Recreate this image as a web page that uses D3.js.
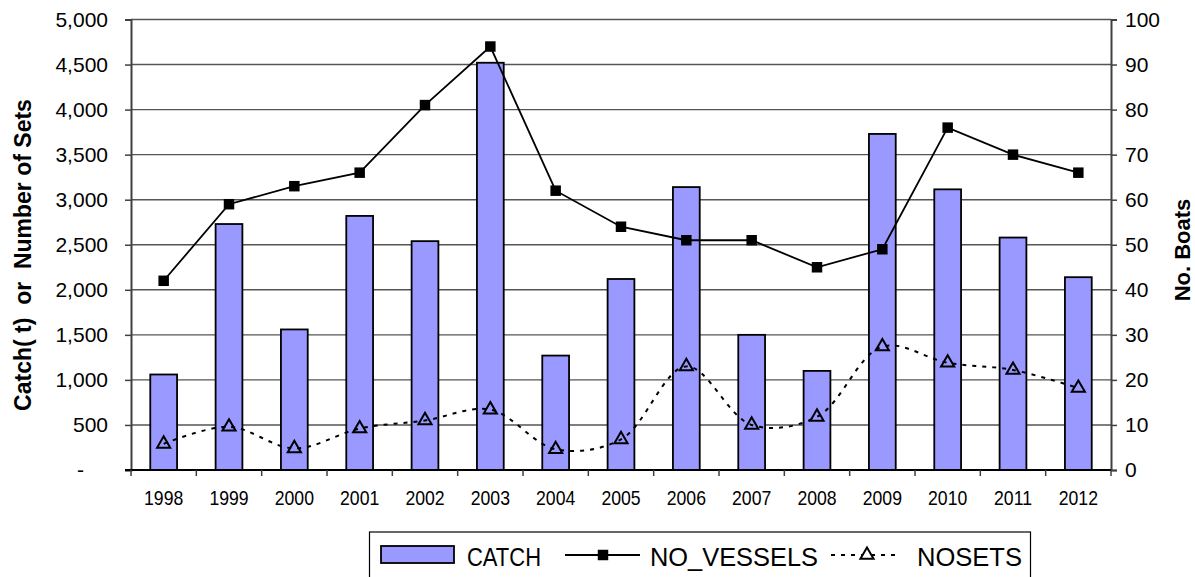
<!DOCTYPE html>
<html>
<head>
<meta charset="utf-8">
<script src="https://cdn.jsdelivr.net/npm/d3@7"></script>
<style>
  html, body { margin: 0; padding: 0; background: #fff; }
  svg { display: block; font-family: "Liberation Sans", Arial, sans-serif; }
</style>
</head>
<body>
<svg id="chart" width="1195" height="577"></svg>
<script>
// Yearly catch (t), number of sets and number of boats
const years = ["1998","1999","2000","2001","2002","2003","2004","2005","2006","2007","2008","2009","2010","2011","2012"];
const catchTonnes = [1060, 2730, 1560, 2820, 2540, 4520, 1270, 2120, 3140, 1500, 1100, 3730, 3115, 2580, 2140];
const noVessels = [42, 59, 63, 66, 81, 94, 62, 54, 51, 51, 45, 49, 76, 70, 66];
const noSets = [290, 480, 240, 460, 550, 670, 230, 340, 1150, 500, 590, 1370, 1190, 1110, 910];
const leftTicks = [0, 500, 1000, 1500, 2000, 2500, 3000, 3500, 4000, 4500, 5000];
const rightTicks = [0, 10, 20, 30, 40, 50, 60, 70, 80, 90, 100];
const legendLabels = ["CATCH", "NO_VESSELS", "NOSETS"];

const svg = d3.select("#chart");
const plot = { left: 131, right: 1111, top: 19.5, bottom: 470 };

const x = d3.scaleBand().domain(years).range([plot.left, plot.right]).paddingInner(0.59).paddingOuter(0.295);
const xBand = d3.scaleBand().domain(years).range([plot.left, plot.right]);
const yL = d3.scaleLinear().domain([0, 5000]).range([plot.bottom, plot.top]);
const yR = d3.scaleLinear().domain([0, 100]).range([plot.bottom, plot.top]);

// squeeze a text element horizontally to a narrow face
function narrow(sel, k) {
  sel.each(function () {
    const w = this.getComputedTextLength();
    d3.select(this).attr("textLength", w * k).attr("lengthAdjust", "spacingAndGlyphs");
  });
}

// horizontal gridlines
svg.append("g").selectAll("line").data(leftTicks.filter(d => d > 0)).join("line")
  .attr("x1", plot.left).attr("x2", plot.right)
  .attr("y1", d => yL(d)).attr("y2", d => yL(d))
  .attr("stroke", "#555").attr("stroke-width", 1.4);

// catch bars
svg.append("g").selectAll("rect").data(catchTonnes).join("rect")
  .attr("x", (d, i) => x(years[i]))
  .attr("y", d => yL(d))
  .attr("width", x.bandwidth())
  .attr("height", d => yL(0) - yL(d))
  .attr("fill", "#9999FF").attr("stroke", "#000").attr("stroke-width", 1.8);

// left axis
const leftAxis = d3.axisLeft(yL).tickValues(leftTicks).tickSize(6).tickPadding(17)
  .tickFormat(d => d === 0 ? "-" : d3.format(",")(d));
const gL = svg.append("g").attr("transform", `translate(${plot.left},0)`).call(leftAxis);
gL.select(".domain").attr("stroke", "#404040").attr("stroke-width", 2);
gL.selectAll(".tick line").attr("stroke", "#404040").attr("stroke-width", 1.5);
gL.selectAll(".tick text").attr("font-size", 21).attr("fill", "#000")
  .attr("font-family", "Liberation Sans, Arial, sans-serif")
  .attr("dx", d => d === 0 ? -24 : 0);

// right axis
const rightAxis = d3.axisRight(yR).tickValues(rightTicks).tickSize(6).tickPadding(8);
const gR = svg.append("g").attr("transform", `translate(${plot.right},0)`).call(rightAxis);
gR.select(".domain").attr("stroke", "#404040").attr("stroke-width", 2);
gR.selectAll(".tick line").attr("stroke", "#404040").attr("stroke-width", 1.5);
gR.selectAll(".tick text").attr("font-size", 21).attr("fill", "#000")
  .attr("font-family", "Liberation Sans, Arial, sans-serif");

// bottom axis: ticks between categories
const gX = svg.append("g").attr("transform", `translate(0,${plot.bottom})`);
gX.append("line").attr("x1", plot.left - 6).attr("x2", plot.right)
  .attr("stroke", "#000").attr("stroke-width", 2);
const bounds = years.map(y => xBand(y)).concat([plot.right]);
gX.selectAll("line.tk").data(bounds).join("line").attr("class", "tk")
  .attr("x1", d => d).attr("x2", d => d).attr("y1", 0).attr("y2", 6)
  .attr("stroke", "#404040").attr("stroke-width", 1.5);
gX.selectAll("text").data(years).join("text")
  .attr("x", d => xBand(d) + xBand.bandwidth() / 2)
  .attr("y", 35).attr("text-anchor", "middle").attr("font-size", 21)
  .text(d => d)
  .call(narrow, 0.84);

// sets: smoothed dotted line with open triangles
const cx = i => xBand(years[i]) + xBand.bandwidth() / 2;
const setsLine = d3.line().x((d, i) => cx(i)).y(d => yL(d)).curve(d3.curveCatmullRom.alpha(0.5));
svg.append("path").datum(noSets).attr("d", setsLine)
  .attr("fill", "none").attr("stroke", "#000").attr("stroke-width", 2)
  .attr("stroke-dasharray", "4,6");
const tri = d3.symbol().type(d3.symbolTriangle).size(75);
svg.append("g").selectAll("path").data(noSets).join("path")
  .attr("d", tri)
  .attr("transform", (d, i) => `translate(${cx(i)},${yL(d)})`)
  .attr("fill", "none").attr("stroke", "#000").attr("stroke-width", 2);

// vessels: solid line with filled squares
const vesselLine = d3.line().x((d, i) => cx(i)).y(d => yR(d));
svg.append("path").datum(noVessels).attr("d", vesselLine)
  .attr("fill", "none").attr("stroke", "#000").attr("stroke-width", 1.8);
const sq = d3.symbol().type(d3.symbolSquare).size(110);
svg.append("g").selectAll("path").data(noVessels).join("path")
  .attr("d", sq)
  .attr("transform", (d, i) => `translate(${cx(i)},${yR(d)})`)
  .attr("fill", "#000");

// axis titles
svg.append("text").attr("transform", "translate(31,255) rotate(-90)")
  .attr("text-anchor", "middle").attr("font-size", 23).attr("font-weight", "bold")
  .attr("xml:space", "preserve").text("Catch( t)  or  Number of Sets");
svg.append("text").attr("transform", "translate(1190,250) rotate(-90)")
  .attr("text-anchor", "middle").attr("font-size", 22).attr("font-weight", "bold")
  .text("No. Boats");

// legend
const lg = svg.append("g");
lg.append("rect").attr("x", 369.5).attr("y", 532).attr("width", 661).attr("height", 60)
  .attr("fill", "#fff").attr("stroke", "#000").attr("stroke-width", 1.2);
lg.append("rect").attr("x", 381).attr("y", 546).attr("width", 73).attr("height", 17)
  .attr("fill", "#9999FF").attr("stroke", "#000").attr("stroke-width", 1.8);
lg.append("text").attr("x", 467).attr("y", 566).attr("font-size", 26)
  .attr("textLength", 74).attr("lengthAdjust", "spacingAndGlyphs").text(legendLabels[0]);
lg.append("line").attr("x1", 565).attr("x2", 640).attr("y1", 555).attr("y2", 555)
  .attr("stroke", "#000").attr("stroke-width", 1.8);
lg.append("path").attr("d", sq).attr("transform", "translate(603,555)").attr("fill", "#000");
lg.append("text").attr("x", 650).attr("y", 566).attr("font-size", 26)
  .attr("textLength", 168).attr("lengthAdjust", "spacingAndGlyphs").text(legendLabels[1]);
lg.append("line").attr("x1", 831).attr("x2", 900).attr("y1", 555).attr("y2", 555)
  .attr("stroke", "#000").attr("stroke-width", 2).attr("stroke-dasharray", "4,6");
lg.append("path").attr("d", tri).attr("transform", "translate(867,555)")
  .attr("fill", "#fff").attr("stroke", "#000").attr("stroke-width", 2);
lg.append("text").attr("x", 917).attr("y", 566).attr("font-size", 26)
  .attr("textLength", 105).attr("lengthAdjust", "spacingAndGlyphs").text(legendLabels[2]);
</script>
</body>
</html>
